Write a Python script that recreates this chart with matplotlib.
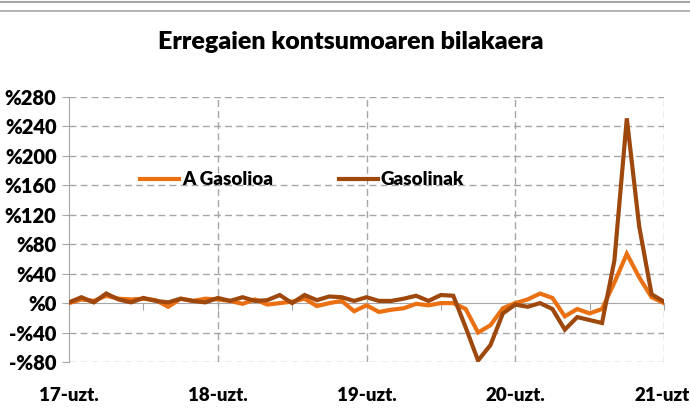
import matplotlib
matplotlib.use("Agg")
import matplotlib.pyplot as plt
from matplotlib.lines import Line2D

plt.rcParams['font.family'] = ['Lato', 'DejaVu Sans']
plt.rcParams['font.weight'] = 'heavy'

# monthly series, 2017 July .. 2021 July
gasolioa = [0, 5, 3, 10, 6, 5, 6, 4, -5, 6, 3, 6,
            5, 3, -1, 5, -2, 0, 2, 6, -4, 0, 3, -11,
            -3, -12, -9, -7, -1, -3, 0, 0, -8, -40, -30, -7,
            0, 5, 13, 7, -18, -8, -14, -8, 28, 67, 35, 8,
            0]
gasolinak = [1, 8, 1, 13, 5, 1, 7, 3, 1, 6, 3, 1,
             7, 3, 8, 3, 4, 11, 0, 11, 4, 9, 8, 3,
             8, 3, 3, 6, 10, 3, 11, 10, -33, -78, -57, -14,
             -2, -5, 0, -8, -36, -19, -23, -27, 58, 251, 104, 12,
             2]
year_labels = ['17-uzt.', '18-uzt.', '19-uzt.', '20-uzt.', '21-uzt.']
y_ticks = [-80, -40, 0, 40, 80, 120, 160, 200, 240, 280]

months = list(range(len(gasolioa)))
grey = '#a6a6a6'

fig = plt.figure(figsize=(6.9, 4.16), dpi=100)
ax = fig.add_axes([69/690, 1-362/416, (664-69)/690, (362-97)/416])

ax.plot(months, gasolioa, color='#eb7012', lw=3.0, label='A Gasolioa',
        solid_joinstyle='miter', zorder=3)
ax.plot(months, gasolinak, color='#9e480e', lw=3.0, label='Gasolinak',
        solid_joinstyle='miter', zorder=4)

ax.set_xlim(0, 48)
ax.set_ylim(-80, 280)

# grid
for v in y_ticks:
    if v != 0:
        ax.axhline(v, color=grey, lw=1, ls=(0, (5, 3)), zorder=1)
for m in range(0, 49, 12):
    if m != 0:
        ax.axvline(m, color=grey, lw=1, ls=(0, (5, 3)), zorder=1)

# spines
for s in ['top', 'right']:
    ax.spines[s].set_visible(False)
ax.spines['left'].set_color(grey)
ax.spines['bottom'].set_position(('data', 0))
ax.spines['bottom'].set_color(grey)
ax.spines['bottom'].set_zorder(2)

ax.set_yticks(y_ticks)
ax.set_yticklabels([('-%' + str(-v)) if v < 0 else '%' + str(v) for v in y_ticks],
                   fontsize=14.5, fontweight='heavy')
ax.tick_params(axis='y', length=5, color=grey, pad=4)
ax.set_xticks(range(0, 49, 6))
ax.set_xticklabels([])
ax.tick_params(axis='x', length=5, color=grey, direction='out')

sec = ax.secondary_xaxis(0)
sec.set_xticks(range(0, 49, 12))
sec.set_xticklabels(year_labels, fontsize=13.5, fontweight='heavy')
sec.tick_params(length=0, pad=18)
sec.spines['bottom'].set_visible(False)

leg = ax.legend(loc='center left', bbox_to_anchor=(0.119, 0.687), ncol=2,
                frameon=False, fontsize=13.5, handlelength=2.1,
                handletextpad=0.15, columnspacing=3.5, borderpad=0,
                borderaxespad=0)

fig.text(0.509, 1-42/416, 'Erregaien kontsumoaren bilakaera', ha='center',
         va='center', fontsize=18, fontweight='heavy')

fig.add_artist(Line2D([0, 1], [1-2/416, 1-2/416], color=grey, lw=1.5))
fig.add_artist(Line2D([0, 1], [1-11/416, 1-11/416], color=grey, lw=1.2))

fig.savefig('out.png', dpi=100)
